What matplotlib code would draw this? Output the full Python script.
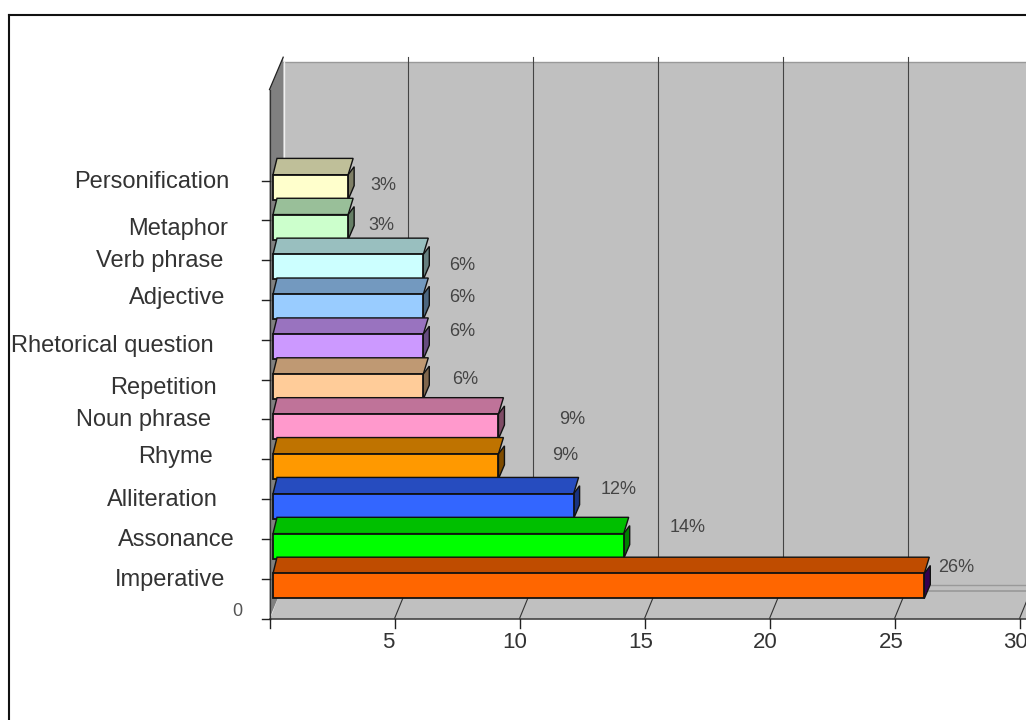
import matplotlib
matplotlib.use('Agg')
import matplotlib.pyplot as plt
from matplotlib.patches import Polygon, Rectangle

# bottom to top
categories = ['Imperative', 'Assonance', 'Alliteration', 'Rhyme', 'Noun phrase', 'Repetition',
              'Rhetorical question', 'Adjective', 'Verb phrase', 'Metaphor', 'Personification']
values = [26, 14, 12, 9, 9, 6, 6, 6, 6, 3, 3]
x_ticks = [5, 10, 15, 20, 25, 30]

face_colors = ['#FF6600', '#00FF00', '#3366FF', '#FF9900', '#FF99CC', '#FFCC99',
               '#CC99FF', '#99CCFF', '#CCFFFF', '#CCFFCC', '#FFFFCC']
top_colors = ['#BF4C00', '#00BF00', '#264CBF', '#BF7300', '#BF7399', '#BF9973',
              '#9973BF', '#7399BF', '#99BFBF', '#99BF99', '#BFBF99']
side_colors = ['#330050', '#007F00', '#19337F', '#7F4C00', '#7F4C66', '#7F664C',
               '#664C7F', '#4C667F', '#667F7F', '#667F66', '#7F7F66']

# hand placed labels, figure pixels from the top left
label_right = [225, 235, 218, 213, 211, 217, 214, 225, 223, 228, 229]
label_y = [580, 540, 500, 457, 420, 388, 346, 298, 261, 229, 182]
pct_x = [956, 688, 619, 565, 572, 465, 462, 462, 462, 381, 383]
pct_y = [568, 528, 489, 455, 419, 379, 332, 297, 266, 225, 186]
tick_label_x = [388, 515, 641, 765, 891, 1015]

W, H = 1026, 720
X0_PX, X_UNIT = 269.5, 25.0
Y0_PX, Y_UNIT = 618.6, 39.9

plt.rcParams['font.family'] = ['Liberation Sans', 'DejaVu Sans']
fig = plt.figure(figsize=(W / 100, H / 100), dpi=100, facecolor='white')
ax = fig.add_axes([0, 0, 1, 1])
ax.set_xlim(-X0_PX / X_UNIT, (W - X0_PX) / X_UNIT)
ax.set_ylim((Y0_PX - H) / Y_UNIT, Y0_PX / Y_UNIT)
ax.axis('off')

# depth of the box and of the bars, in axis units
dx_box, dy_box = 13.7 / X_UNIT, 33.5 / Y_UNIT
dx_bar, dy_bar = 5 / X_UNIT, 16.3 / Y_UNIT
wall_top = 13.26
back_top = 13.95
peak_top = 14.07


def fig_text(x, y, s, **kw):
    fig.text(x / W, 1 - y / H, s, va='center', **kw)


# outer frame runs off the right and bottom
fig.add_artist(plt.Line2D([9 / W, 9 / W], [0, 1 - 14.5 / H], color='#111111', lw=1.5))
fig.add_artist(plt.Line2D([9 / W, 1], [1 - 14.5 / H, 1 - 14.5 / H], color='#111111', lw=1.5))

xmax = ax.get_xlim()[1] + 2

# back wall
ax.fill([dx_box, xmax, xmax, dx_box], [dy_box, dy_box, back_top, back_top], color='#C0C0C0', lw=0, zorder=1)
ax.plot([dx_box, xmax], [back_top, back_top], color='#999999', lw=1, zorder=2)

# floor
ax.fill([0, xmax, xmax, dx_box], [0, 0, dy_box, dy_box], color='#C0C0C0', lw=0, zorder=1)

# left wall
ax.fill([0, dx_box, dx_box, 0], [0, dy_box, peak_top, wall_top], color='#808080', lw=0, zorder=3)
ax.plot([0, dx_box], [wall_top, peak_top], color='#222222', lw=0.9, zorder=4)
ax.plot([dx_box + 0.03] * 2, [dy_box, back_top], color='#F0F0F0', lw=1, zorder=4)

# gridlines on the wall and their continuation on the floor
for v in x_ticks:
    ax.plot([v + dx_box] * 2, [dy_box, peak_top], color='#444444', lw=0.8, zorder=2)
    ax.plot([v, v + dx_box], [0, dy_box], color='#333333', lw=0.8, zorder=2)
ax.plot([25.6, xmax], [dy_box - 5.7 / Y_UNIT] * 2, color='#999999', lw=1.2, zorder=2)
ax.plot([25.6, xmax], [dy_box] * 2, color='#999999', lw=1, zorder=2)

# axis lines and ticks
ax.plot([0, xmax], [0, 0], color='#444444', lw=1.2, zorder=4)
ax.plot([0, 0], [0, wall_top], color='#333333', lw=0.9, zorder=4)
for v in [0] + x_ticks:
    ax.plot([v, v], [0, -9 / Y_UNIT], color='#222222', lw=1, zorder=4)
for i in range(len(categories) + 1):
    ax.plot([-7.5 / X_UNIT, 0], [i * 0.998] * 2, color='#222222', lw=1, zorder=4)

# bars, drawn back to front so the nearer ones overlap
start = 3.5 / X_UNIT
height = 25 / Y_UNIT
for i in range(len(values) - 1, -1, -1):
    v = values[i]
    z = 10 + (len(values) - i)
    left = start
    right = start + v * 1.002
    bottom = 0.504 + i * 0.9995
    top = bottom + height
    ax.add_patch(Polygon([(left, top), (right, top), (right + dx_bar, top + dy_bar), (left + 4 / X_UNIT, top + dy_bar)],
                         fc=top_colors[i], ec='#111111', lw=1, zorder=z))
    ax.add_patch(Polygon([(right, bottom), (right, top), (right + 6 / X_UNIT, top + 8 / Y_UNIT),
                          (right + 6 / X_UNIT, bottom + 14 / Y_UNIT)],
                         fc=side_colors[i], ec='#111111', lw=1, zorder=z))
    ax.add_patch(Rectangle((left, bottom), right - left, height, fc=face_colors[i], ec='#111111', lw=1.3, zorder=z))

# text
for i, name in enumerate(categories):
    fig_text(label_right[i], label_y[i], name, ha='right', fontsize=17, color='#333333')
    fig_text(pct_x[i], pct_y[i], f'{values[i]}%', ha='center', fontsize=13, color='#444444')
for px, v in zip(tick_label_x, x_ticks):
    fig_text(px, 643, str(v), ha='center', fontsize=16, color='#333333')
fig_text(237, 611, '0', ha='center', fontsize=13, color='#555555')

fig.savefig('out.png', dpi=100)
